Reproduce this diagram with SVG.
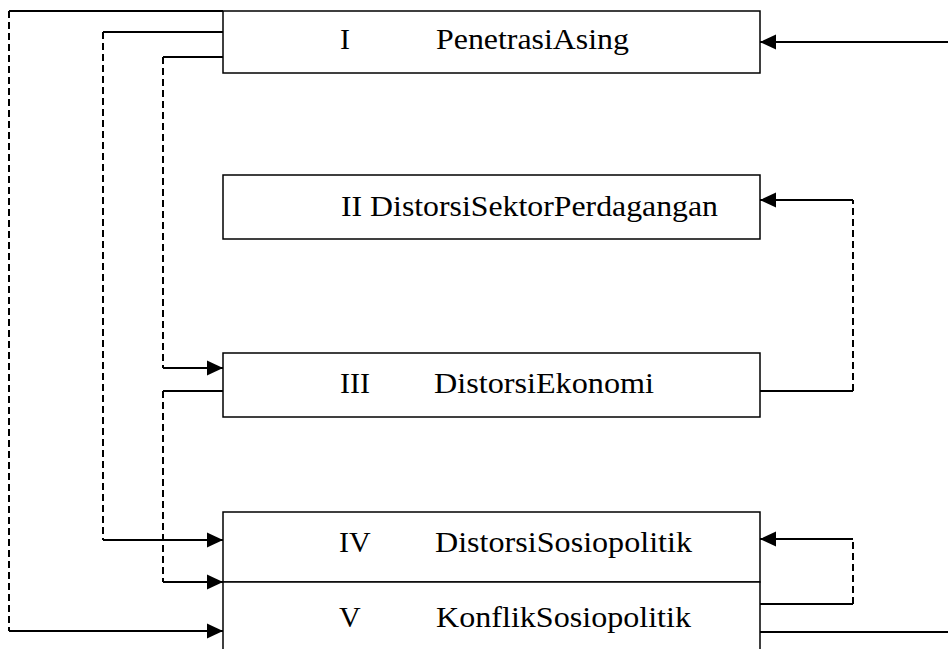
<svg xmlns="http://www.w3.org/2000/svg" width="948" height="649" viewBox="0 0 948 649">
<style>
.box{fill:#fff;stroke:#000;stroke-width:1.5}
.t{font-size:30px;fill:#000}
.s{fill:none;stroke:#000;stroke-width:2}
.d{fill:none;stroke:#000;stroke-width:2;stroke-dasharray:7 4}
.a{marker-end:url(#arr)}
</style>
<defs>
<marker id="arr" markerUnits="userSpaceOnUse" markerWidth="18" markerHeight="18" viewBox="0 0 18 18" refX="16" refY="9" orient="auto">
<path d="M0,1.5 L16,9 L0,16.5 Z" fill="#000"/>
</marker>
</defs>
<rect width="948" height="649" fill="#fff"/>
<g id="connectors">
<g id="c-I-V"><path class="s" d="M223,11 H9"/><path class="d" d="M9,11 V631"/><path class="s a" d="M9,631 H223"/></g>
<g id="c-I-IV"><path class="s" d="M223,32 H103"/><path class="d" d="M103,32 V540"/><path class="s a" d="M103,540 H223"/></g>
<g id="c-I-III"><path class="s" d="M223,57 H163"/><path class="d" d="M163,57 V368"/><path class="s a" d="M163,368 H223"/></g>
<g id="c-III-V"><path class="s" d="M223,391 H163"/><path class="d" d="M163,391 V582"/><path class="s a" d="M163,582 H223"/></g>
<g id="c-III-II"><path class="s" d="M760,391 H853"/><path class="d" d="M853,391 V200"/><path class="s a" d="M853,200 H760"/></g>
<g id="c-in-I"><path class="s a" d="M948,42 H760"/></g>
<g id="c-V-IV"><path class="s" d="M760,604 H853"/><path class="d" d="M853,604 V539"/><path class="s a" d="M853,539 H760"/></g>
<g id="c-V-out"><path class="s" d="M760,632 H948"/></g>
</g>
<g font-family="Liberation Serif, Tinos, DejaVu Serif, serif">
<g id="node-I"><rect class="box" x="223" y="11" width="537" height="62"/><text class="t" x="340" y="49">I</text><text class="t" x="436" y="49" textLength="193" lengthAdjust="spacingAndGlyphs">PenetrasiAsing</text></g>
<g id="node-II"><rect class="box" x="223" y="175" width="537" height="64"/><text class="t" x="341" y="216" textLength="377" lengthAdjust="spacingAndGlyphs">II DistorsiSektorPerdagangan</text></g>
<g id="node-III"><rect class="box" x="223" y="353" width="537" height="64"/><text class="t" x="340" y="393">III</text><text class="t" x="434" y="393" textLength="220" lengthAdjust="spacingAndGlyphs">DistorsiEkonomi</text></g>
<g id="node-IV"><rect class="box" x="223" y="512" width="537" height="70"/><text class="t" x="339" y="552">IV</text><text class="t" x="435" y="552" textLength="257" lengthAdjust="spacingAndGlyphs">DistorsiSosiopolitik</text></g>
<g id="node-V"><rect class="box" x="223" y="582" width="537" height="90"/><text class="t" x="339" y="627">V</text><text class="t" x="436" y="627" textLength="255" lengthAdjust="spacingAndGlyphs">KonflikSosiopolitik</text></g>
</g>
</svg>
